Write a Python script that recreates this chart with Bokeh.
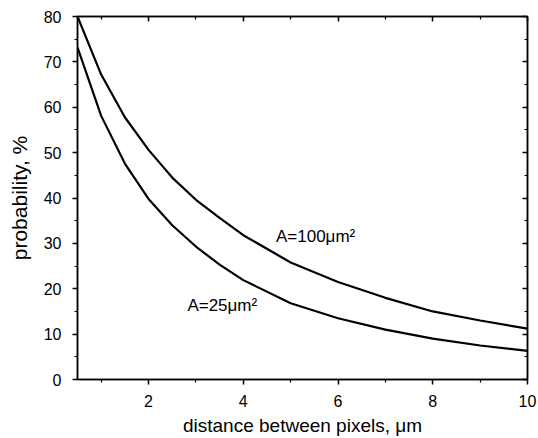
from bokeh.plotting import figure
from bokeh.models import LinearAxis, FixedTicker, Range1d, CustomJSTickFormatter
from bokeh.core.properties import value
from bokeh.embed import file_html
from bokeh.resources import INLINE

# data
distance = [0.5, 1, 1.5, 2, 2.5, 3, 3.5, 4, 5, 6, 7, 8, 9, 10]
prob_a100 = [80, 67.2, 57.8, 50.6, 44.5, 39.6, 35.6, 31.8, 25.8, 21.5, 18.0, 15.0, 13.0, 11.2]
prob_a25 = [73.2, 58.1, 47.6, 39.8, 34.0, 29.3, 25.3, 21.9, 16.8, 13.5, 11.0, 9.0, 7.5, 6.3]
labels = ["A=100\u03bcm\u00b2", "A=25\u03bcm\u00b2"]
label_x = [4.69, 2.82]
label_y = [31.5, 16.3]

x_major = [2, 4, 6, 8, 10]
x_minor = [1, 3, 5, 7, 9]
y_major = [0, 10, 20, 30, 40, 50, 60, 70, 80]
y_minor = [5, 15, 25, 35, 45, 55, 65, 75]

FONT = "Liberation Sans"

p = figure(width=538, height=438, output_backend="svg", toolbar_location=None,
           x_range=Range1d(0.5, 10), y_range=Range1d(0, 80),
           min_border_left=77, min_border_right=11, min_border_top=16, min_border_bottom=59,
           x_axis_label="distance between pixels, \u03bcm", y_axis_label="probability, %")
p.xgrid.visible = False
p.ygrid.visible = False
p.outline_line_color = "black"
p.outline_line_width = 1.5
p.background_fill_color = "white"
p.border_fill_color = "white"

p.line(distance, prob_a100, line_color="black", line_width=2.2)
p.line(distance, prob_a25, line_color="black", line_width=2.2)

p.text(x=label_x, y=label_y, text=labels, text_font=value(FONT), text_font_size="17px",
       text_baseline="middle", text_align="left", text_color="black")

def style(ax, ticks, minor, out, show_labels):
    ax.ticker = FixedTicker(ticks=ticks, minor_ticks=minor)
    ax.axis_line_width = 1.5
    ax.axis_line_color = "black"
    ax.major_tick_line_width = 1.5
    ax.minor_tick_line_width = 1.2
    ax.major_tick_line_color = "black"
    ax.minor_tick_line_color = "black"
    if out:
        ax.major_tick_out = 5
        ax.major_tick_in = 0
        ax.minor_tick_out = 3
        ax.minor_tick_in = 0
    else:
        ax.major_tick_out = 0
        ax.major_tick_in = 5
        ax.minor_tick_out = 0
        ax.minor_tick_in = 3
    ax.major_label_text_font = FONT
    ax.major_label_text_font_size = "16px"
    ax.major_label_text_color = "black"
    ax.axis_label_text_font = FONT
    ax.axis_label_text_font_size = "19px"
    ax.axis_label_text_font_style = "normal"
    ax.axis_label_text_color = "black"
    if not show_labels:
        ax.formatter = CustomJSTickFormatter(code="return ''")

style(p.xaxis[0], x_major, x_minor, True, True)
style(p.yaxis[0], y_major, y_minor, True, True)
p.xaxis[0].major_label_standoff = 10
p.xaxis[0].axis_label_standoff = 5
p.yaxis[0].major_label_standoff = 11
p.yaxis[0].axis_label_standoff = 10
p.yaxis[0].axis_label_text_font_size = "21px"

top = LinearAxis()
style(top, x_major, x_minor, False, False)
top.major_label_standoff = 0
p.add_layout(top, "above")
right = LinearAxis()
style(right, y_major, y_minor, False, False)
right.major_label_standoff = 0
p.add_layout(right, "right")

open("out.html", "w").write(file_html(p, INLINE))
